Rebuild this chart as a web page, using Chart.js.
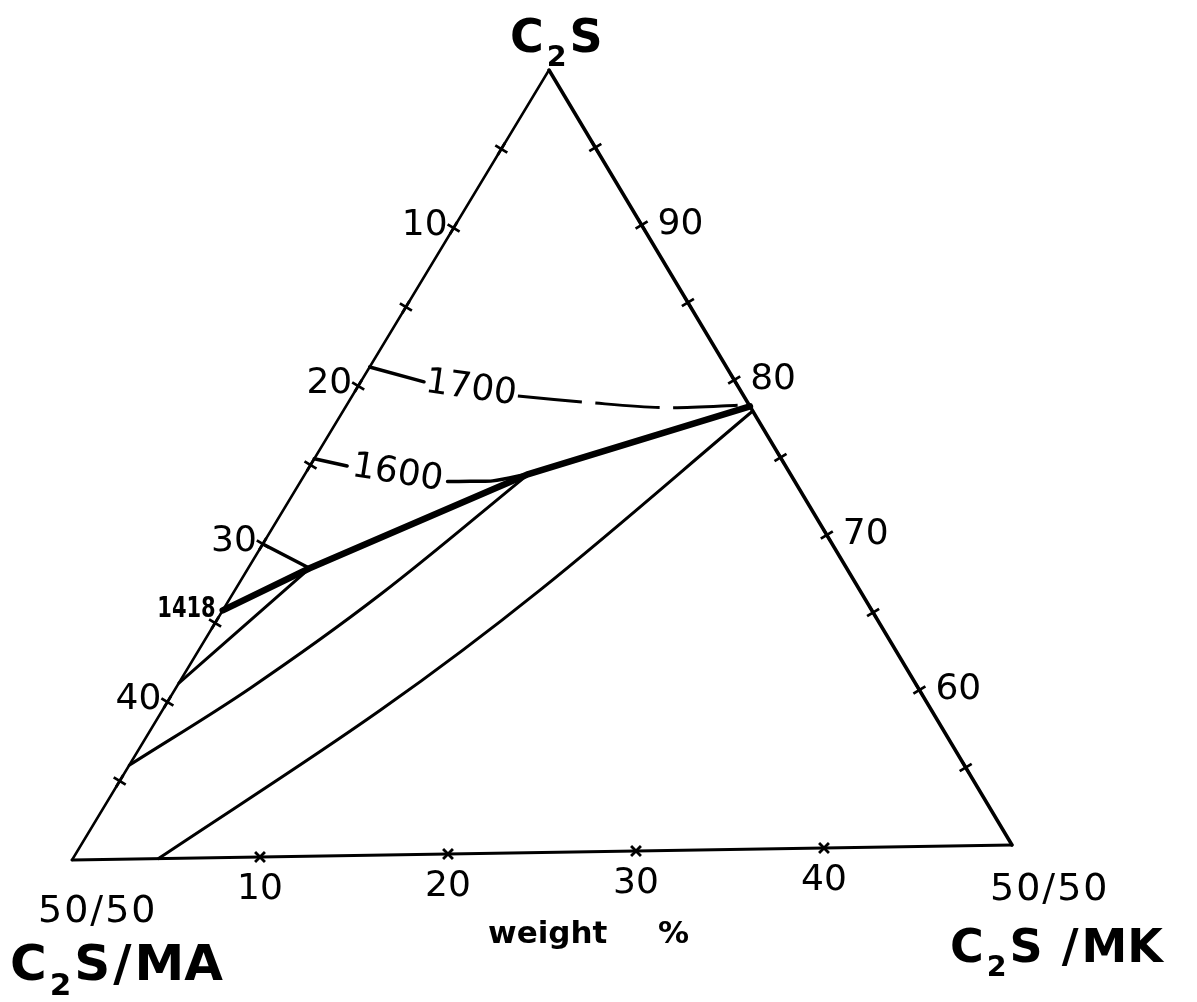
<!DOCTYPE html>
<html>
<head>
<meta charset="utf-8">
<title>C2S - C2S/MA - C2S/MK</title>
<script src="https://cdn.jsdelivr.net/npm/chart.js@4/dist/chart.umd.min.js"></script>
<style>
  html, body { margin: 0; padding: 0; background: #fff; }
  #wrap { width: 1197px; height: 1002px; }
</style>
</head>
<body>
<div id="wrap"><canvas id="phaseChart" width="1197" height="1002"></canvas></div>
<script>
// compositions are [MA %, MK %], C2S makes up the rest
const leftTickMA = [5, 10, 15, 20, 25, 30, 35, 40, 45];
const leftLabelMA = [10, 20, 30, 40];
const rightTickC2S = [95, 90, 85, 80, 75, 70, 65, 60, 55];
const rightLabelC2S = [90, 80, 70, 60];
const bottomTickMK = [10, 20, 30, 40];
const bottomLabelMK = [10, 20, 30, 40];

// heavy boundary line, starts at the 1418 point on the left side
const boundary = [[34.2, 0], [28.3, 3.3], [13.8, 12.0], [0, 21.7]];
const boundaryLabel = '1418';
const line30 = [[30, 0], [28.3, 3.3]];
const tieA = [[28.3, 3.3], [38.8, 0]];
const tieB = [[13.8, 12.0], [25.4, 7.95], [35.2, 4.0], [44.0, 0]];
const tieC = [[0, 22.0], [16.8, 16.4], [29.05, 11.7], [45.4, 4.6]];

// isotherms: short leader from the side, then the curve after the label
const iso1600Leader = [[24.6, 0], [23.1, 2.0]];
const iso1600Curve = [[18.3, 7.9], [17.1, 9.1], [15.9, 10.3], [13.8, 12.0]];
const iso1700Leader = [[18.8, 0], [16.4, 3.4]];
const iso1700Curve = [[11.9, 8.9], [8.3, 13.0], [4.5, 17.2], [0.1, 21.5]];

// corners of the triangle on the page
const APEX = { x: 549, y: 70 };
const LEFT = { x: 72, y: 860 };
const RIGHT = { x: 1012, y: 845 };

function tern(ma, mk) {
  const a = ma / 50, b = mk / 50;
  return {
    x: APEX.x + a * (LEFT.x - APEX.x) + b * (RIGHT.x - APEX.x),
    y: APEX.y + a * (LEFT.y - APEX.y) + b * (RIGHT.y - APEX.y)
  };
}

function lineSet(pairs, width, extra) {
  return Object.assign({
    data: pairs.map(p => tern(p[0], p[1])),
    showLine: true,
    borderColor: '#000',
    borderWidth: width,
    pointRadius: 0,
    tension: 0,
    fill: false,
    borderCapStyle: 'round',
    borderJoinStyle: 'round'
  }, extra || {});
}

function tickSet(points, style, rotation) {
  return {
    data: points,
    showLine: false,
    pointStyle: style,
    pointRadius: 7,
    pointRotation: rotation,
    borderColor: '#000',
    backgroundColor: '#000',
    borderWidth: 2.8
  };
}

const FONT = '"DejaVu Sans", "Liberation Sans", sans-serif';

function drawFormula(ctx, parts, x, y, size) {
  // parts: [text, isSubscript]
  let cx = x;
  parts.forEach(([t, sub]) => {
    const s = sub ? size * 0.62 : size;
    ctx.font = 'bold ' + s + 'px ' + FONT;
    ctx.fillText(t, cx, sub ? y + size * 0.3 : y);
    cx += ctx.measureText(t).width + 3;
  });
}

const labelPlugin = {
  id: 'phaseLabels',
  afterDatasetsDraw(chart) {
    const ctx = chart.ctx;
    const sx = chart.scales.x, sy = chart.scales.y;
    const pix = p => ({ x: sx.getPixelForValue(p.x), y: sy.getPixelForValue(p.y) });
    ctx.save();
    ctx.fillStyle = '#000';
    ctx.textBaseline = 'middle';
    ctx.font = '36px ' + FONT;

    // left side: % MA
    ctx.textAlign = 'right';
    leftLabelMA.forEach(v => {
      const p = pix(tern(v, 0));
      ctx.fillText(String(v), p.x - 6, p.y - 2);
    });
    // right side: % C2S
    ctx.textAlign = 'left';
    rightLabelC2S.forEach(v => {
      const p = pix(tern(0, 100 - v));
      ctx.fillText(String(v), p.x + 16, p.y);
    });
    // bottom: % MK
    ctx.textAlign = 'center';
    bottomLabelMK.forEach(v => {
      const p = pix(tern(50 - v, v));
      ctx.fillText(String(v), p.x, p.y + 33);
    });

    // isotherm labels sit in the gap between leader and curve
    [[iso1600Leader, iso1600Curve, '1600', 9], [iso1700Leader, iso1700Curve, '1700', 8]].forEach(([lead, curve, txt, rot]) => {
      const a = pix(tern(lead[1][0], lead[1][1]));
      const b = pix(tern(curve[0][0], curve[0][1]));
      ctx.save();
      ctx.translate((a.x + b.x) / 2, (a.y + b.y) / 2);
      ctx.rotate(rot * Math.PI / 180);
      ctx.textAlign = 'center';
      ctx.font = '36px ' + FONT;
      ctx.fillText(txt, 0, 0);
      ctx.restore();
    });

    // 1418 label at the start of the heavy boundary
    const q = pix(tern(boundary[0][0], boundary[0][1]));
    ctx.save();
    ctx.translate(q.x - 7, q.y - 1);
    ctx.scale(0.75, 1);
    ctx.textAlign = 'right';
    ctx.font = 'bold 28px ' + FONT;
    ctx.fillText(boundaryLabel, 0, 0);
    ctx.restore();

    // corner names
    ctx.textBaseline = 'alphabetic';
    ctx.textAlign = 'left';
    drawFormula(ctx, [['C', 0], ['2', 1], ['S', 0]], 510, 52, 46);
    drawFormula(ctx, [['C', 0], ['2', 1], ['S', 0], ['/', 0], ['MA', 0]], 10, 980, 50);
    drawFormula(ctx, [['C', 0], ['2', 1], ['S', 0], [' /', 0], ['MK', 0]], 950, 962, 46);

    ctx.font = '38px ' + FONT;
    ctx.letterSpacing = '2px';
    ctx.fillText('50/50', 38, 922);
    ctx.fillText('50/50', 990, 900);
    ctx.letterSpacing = '0px';

    ctx.font = 'bold 31px ' + FONT;
    ctx.fillText('weight', 488, 943);
    ctx.fillText('%', 658, 943);
    ctx.restore();
  }
};

const ctx = document.getElementById('phaseChart').getContext('2d');
new Chart(ctx, {
  type: 'scatter',
  data: {
    datasets: [
      // triangle sides
      lineSet([[0, 0], [50, 0]], 2.5),
      lineSet([[0, 0], [0, 50]], 3.5),
      lineSet([[50, 0], [0, 50]], 3),
      // phase lines
      lineSet(boundary, 6.5),
      lineSet(line30, 3.5),
      lineSet(tieA, 3),
      lineSet(tieB, 3, { tension: 0.35 }),
      lineSet(tieC, 3, { tension: 0.35 }),
      lineSet(iso1600Leader, 3.5),
      lineSet(iso1600Curve, 3.5, { tension: 0.3 }),
      lineSet(iso1700Leader, 3.5),
      lineSet(iso1700Curve, 3, { tension: 0.3, borderDash: [64, 14], borderCapStyle: 'butt' }),
      // scale marks
      tickSet(leftTickMA.map(v => tern(v, 0)), 'cross', 31),
      tickSet(rightTickC2S.map(v => tern(0, 100 - v)), 'cross', -31),
      tickSet(bottomTickMK.map(v => tern(50 - v, v)), 'crossRot', 0)
    ]
  },
  options: {
    responsive: false,
    animation: false,
    events: [],
    layout: { padding: 0, autoPadding: false },
    plugins: {
      legend: { display: false },
      tooltip: { enabled: false }
    },
    scales: {
      x: { type: 'linear', min: 0, max: 1197, display: false },
      y: { type: 'linear', min: 0, max: 1002, reverse: true, display: false }
    }
  },
  plugins: [labelPlugin]
});
</script>
</body>
</html>
